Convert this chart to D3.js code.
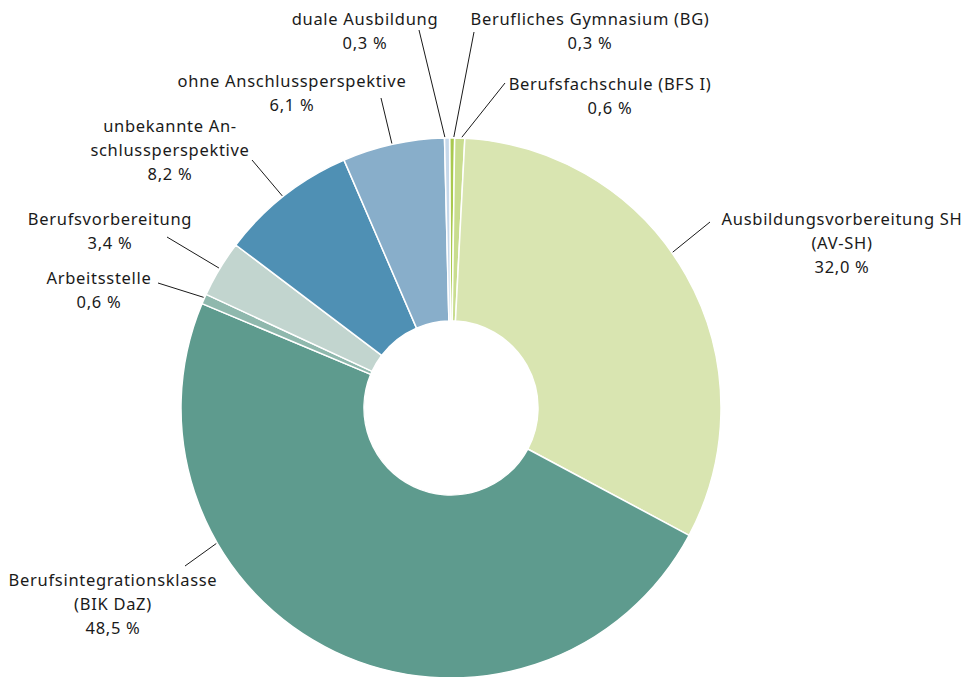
<!DOCTYPE html>
<html><head><meta charset="utf-8">
<script src="https://cdn.jsdelivr.net/npm/d3@7"></script>
<style>html,body{margin:0;padding:0;background:#fff;}svg{display:block;}</style>
</head><body>
<script>
// ---- data ----
const categories = [
  "Berufliches Gymnasium (BG)",
  "Berufsfachschule (BFS I)",
  "Ausbildungsvorbereitung SH|(AV-SH)",
  "Berufsintegrationsklasse|(BIK DaZ)",
  "Arbeitsstelle",
  "Berufsvorbereitung",
  "unbekannte An-|schlussperspektive",
  "ohne Anschlussperspektive",
  "duale Ausbildung"
];
const values = [0.3, 0.6, 32.0, 48.5, 0.6, 3.4, 8.2, 6.1, 0.3];
const valueLabels = ["0,3 %", "0,6 %", "32,0 %", "48,5 %", "0,6 %", "3,4 %", "8,2 %", "6,1 %", "0,3 %"];
const colors = ["#a9c94f", "#c9dd8f", "#d9e5b1", "#5e9b8e", "#8fb8ad", "#c2d5cf", "#4f90b4", "#88aeca", "#c6d8ea"];

// ---- layout (label positions, leader line start and tip angle in degrees) ----
const labelPos = [
  {x: 590, y: 18,  lx: 474, ly: 32,  tip: 0.6},
  {x: 610, y: 83,  lx: 505, ly: 83,  tip: 2.3},
  {x: 842, y: 218, lx: 710, ly: 222, tip: 54.9},
  {x: 113, y: 579, lx: 185, ly: 566, tip: 240},
  {x: 99,  y: 277, lx: 158, ly: 283, tip: -65.9},
  {x: 110, y: 218, lx: 167, ly: 237, tip: -58.9},
  {x: 170, y: 125, lx: 252, ly: 160, tip: -38.5},
  {x: 292, y: 80,  lx: 381, ly: 98,  tip: -12.6},
  {x: 365, y: 18,  lx: 419, ly: 30,  tip: -1.3}
];

const W = 967, H = 677;
const cx = 451, cy = 408, outerR = 270, innerR = 87;
const offset = -0.3 * Math.PI / 180;

const svg = d3.select("body").append("svg").attr("width", W).attr("height", H);

const pie = d3.pie().sort(null).value(d => d)
  .startAngle(offset).endAngle(2 * Math.PI + offset);
const arcs = pie(values);
const arc = d3.arc().innerRadius(innerR).outerRadius(outerR);

const g = svg.append("g").attr("transform", `translate(${cx},${cy})`);
g.selectAll("path").data(arcs).join("path")
  .attr("d", arc)
  .attr("fill", (d, i) => colors[i])
  .attr("stroke", "#fff")
  .attr("stroke-width", 1.5)
  .attr("stroke-linejoin", "round");

// leader lines
svg.append("g").selectAll("line").data(labelPos).join("line")
  .attr("x1", d => d.lx).attr("y1", d => d.ly)
  .attr("x2", d => cx + (outerR + 1) * Math.sin(d.tip * Math.PI / 180))
  .attr("y2", d => cy - (outerR + 1) * Math.cos(d.tip * Math.PI / 180))
  .attr("stroke", "#1a1a1a").attr("stroke-width", 1);

// labels
const lg = svg.append("g")
  .attr("font-family", "'Noto Sans', 'Open Sans', sans-serif")
  .attr("font-size", 16.5)
  .attr("letter-spacing", 0.7)
  .attr("fill", "#1a1a1a")
  .attr("text-anchor", "middle");
categories.forEach((c, i) => {
  const lines = c.split("|").concat([valueLabels[i]]);
  const p = labelPos[i];
  const t = lg.append("text").attr("x", p.x).attr("y", p.y).attr("dominant-baseline", "central");
  lines.forEach((ln, j) => {
    t.append("tspan").attr("x", p.x).attr("y", p.y + j * 24).text(ln);
  });
});
</script>
</body></html>
